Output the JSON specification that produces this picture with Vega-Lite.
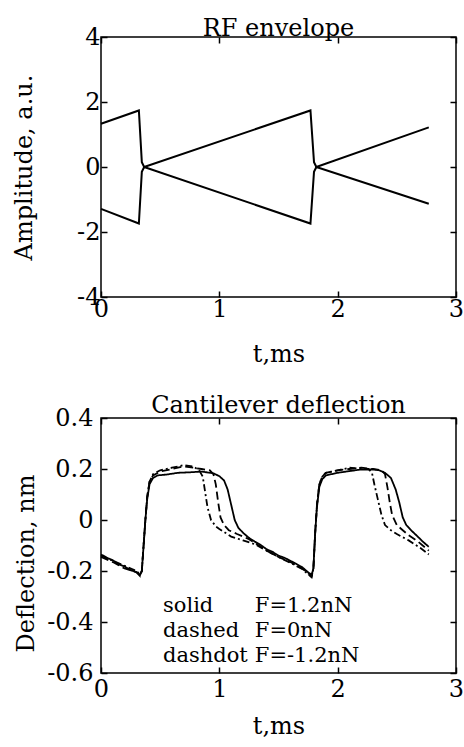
{
  "$schema": "https://vega.github.io/schema/vega-lite/v6.json",
  "background": "white",
  "padding": {"left": 11, "top": 16, "right": 0, "bottom": 0},
  "config": {
    "font": "DejaVu Serif",
    "view": {"stroke": "black", "strokeWidth": 1.5},
    "axis": {"grid": false, "domain": false, "tickColor": "black", "tickSize": -6, "tickWidth": 1.5, "labelColor": "black", "labelFontSize": 24, "labelFont": "DejaVu Serif", "titleFont": "DejaVu Serif", "titleFontSize": 24, "titleFontWeight": "normal", "titleColor": "black", "labelFlush": false, "labelOverlap": false},
    "title": {"font": "DejaVu Serif", "fontSize": 24, "fontWeight": "normal", "color": "black", "baseline": "alphabetic", "anchor": "middle"}
  },
  "bounds": "flush",
  "spacing": 121,
  "vconcat": [
    {
      "width": 355,
      "height": 260,
      "title": {"text": "RF envelope", "offset": -16},
      "data": {"values": [
        {"s": "upper", "t": 0, "a": 1.33},
        {"s": "upper", "t": 0.32, "a": 1.74},
        {"s": "upper", "t": 0.345, "a": 0.15},
        {"s": "upper", "t": 0.365, "a": 0},
        {"s": "upper", "t": 1.77, "a": 1.74},
        {"s": "upper", "t": 1.8, "a": 0.15},
        {"s": "upper", "t": 1.82, "a": 0},
        {"s": "upper", "t": 2.77, "a": 1.22},
        {"s": "lower", "t": 0, "a": -1.29},
        {"s": "lower", "t": 0.32, "a": -1.74},
        {"s": "lower", "t": 0.345, "a": -0.15},
        {"s": "lower", "t": 0.365, "a": 0},
        {"s": "lower", "t": 1.77, "a": -1.74},
        {"s": "lower", "t": 1.8, "a": -0.15},
        {"s": "lower", "t": 1.82, "a": 0},
        {"s": "lower", "t": 2.77, "a": -1.13}
      ]},
      "layer": [
        {
          "mark": {"type": "line", "color": "black", "strokeWidth": 2},
          "encoding": {
            "x": {"field": "t", "type": "quantitative", "scale": {"domain": [0, 3], "nice": false}, "axis": {"orient": "bottom", "values": [0, 1, 2, 3], "title": "t,ms", "titleY": 64, "titleBaseline": "alphabetic", "labelPadding": 6, "labelExpr": "'' + datum.value"}},
            "y": {"field": "a", "type": "quantitative", "scale": {"domain": [-4, 4], "nice": false}, "axis": {"orient": "left", "values": [-4, -2, 0, 2, 4], "title": "Amplitude, a.u.", "titleX": -70, "titleBaseline": "alphabetic", "labelPadding": 7, "labelExpr": "'' + datum.value"}},
            "detail": {"field": "s", "type": "nominal"}
          }
        },
        {
          "mark": {"type": "line", "strokeOpacity": 0},
          "encoding": {
            "x": {"field": "t", "type": "quantitative", "scale": {"domain": [0, 3], "nice": false}, "axis": {"orient": "top", "values": [0, 1, 2, 3], "labels": false, "title": null}},
            "y": {"field": "a", "type": "quantitative", "scale": {"domain": [-4, 4], "nice": false}, "axis": {"orient": "right", "values": [-4, -2, 0, 2, 4], "labels": false, "title": null}},
            "detail": {"field": "s", "type": "nominal"}
          }
        }
      ],
      "resolve": {"axis": {"x": "independent", "y": "independent"}}
    },
    {
      "width": 355,
      "height": 255,
      "title": {"text": "Cantilever deflection", "offset": -12},
      "layer": [
        {
          "data": {"values": [
            {"s": "solid", "t": 0, "d": -0.135},
            {"s": "solid", "t": 0.05, "d": -0.148},
            {"s": "solid", "t": 0.1, "d": -0.158},
            {"s": "solid", "t": 0.15, "d": -0.174},
            {"s": "solid", "t": 0.2, "d": -0.182},
            {"s": "solid", "t": 0.25, "d": -0.197},
            {"s": "solid", "t": 0.3, "d": -0.204},
            {"s": "solid", "t": 0.33, "d": -0.215},
            {"s": "solid", "t": 0.345, "d": -0.2},
            {"s": "solid", "t": 0.36, "d": -0.1},
            {"s": "solid", "t": 0.375, "d": 0.0},
            {"s": "solid", "t": 0.39, "d": 0.08},
            {"s": "solid", "t": 0.41, "d": 0.14},
            {"s": "solid", "t": 0.44, "d": 0.165},
            {"s": "solid", "t": 0.48, "d": 0.175},
            {"s": "solid", "t": 0.55, "d": 0.178},
            {"s": "solid", "t": 0.65, "d": 0.185},
            {"s": "solid", "t": 0.75, "d": 0.187},
            {"s": "solid", "t": 0.85, "d": 0.19},
            {"s": "solid", "t": 0.95, "d": 0.183},
            {"s": "solid", "t": 1.0, "d": 0.172},
            {"s": "solid", "t": 1.04, "d": 0.155},
            {"s": "solid", "t": 1.07, "d": 0.12},
            {"s": "solid", "t": 1.1, "d": 0.06},
            {"s": "solid", "t": 1.13, "d": 0.0},
            {"s": "solid", "t": 1.16, "d": -0.03},
            {"s": "solid", "t": 1.2, "d": -0.05},
            {"s": "solid", "t": 1.25, "d": -0.07},
            {"s": "solid", "t": 1.3, "d": -0.085},
            {"s": "solid", "t": 1.35, "d": -0.098},
            {"s": "solid", "t": 1.4, "d": -0.115},
            {"s": "solid", "t": 1.45, "d": -0.125},
            {"s": "solid", "t": 1.5, "d": -0.14},
            {"s": "solid", "t": 1.55, "d": -0.148},
            {"s": "solid", "t": 1.6, "d": -0.16},
            {"s": "solid", "t": 1.65, "d": -0.172},
            {"s": "solid", "t": 1.7, "d": -0.185},
            {"s": "solid", "t": 1.75, "d": -0.205},
            {"s": "solid", "t": 1.78, "d": -0.215},
            {"s": "solid", "t": 1.795, "d": -0.19},
            {"s": "solid", "t": 1.81, "d": -0.05},
            {"s": "solid", "t": 1.825, "d": 0.05},
            {"s": "solid", "t": 1.845, "d": 0.13},
            {"s": "solid", "t": 1.87, "d": 0.16},
            {"s": "solid", "t": 1.9, "d": 0.175},
            {"s": "solid", "t": 2.0, "d": 0.185},
            {"s": "solid", "t": 2.1, "d": 0.192},
            {"s": "solid", "t": 2.2, "d": 0.198},
            {"s": "solid", "t": 2.3, "d": 0.198},
            {"s": "solid", "t": 2.35, "d": 0.195},
            {"s": "solid", "t": 2.4, "d": 0.185},
            {"s": "solid", "t": 2.45, "d": 0.165},
            {"s": "solid", "t": 2.49, "d": 0.12},
            {"s": "solid", "t": 2.52, "d": 0.07},
            {"s": "solid", "t": 2.55, "d": 0.01},
            {"s": "solid", "t": 2.58, "d": -0.02},
            {"s": "solid", "t": 2.62, "d": -0.04},
            {"s": "solid", "t": 2.67, "d": -0.062},
            {"s": "solid", "t": 2.72, "d": -0.085},
            {"s": "solid", "t": 2.77, "d": -0.105},
            {"s": "dashed", "t": 0, "d": -0.145},
            {"s": "dashed", "t": 0.1, "d": -0.165},
            {"s": "dashed", "t": 0.2, "d": -0.19},
            {"s": "dashed", "t": 0.3, "d": -0.205},
            {"s": "dashed", "t": 0.33, "d": -0.22},
            {"s": "dashed", "t": 0.345, "d": -0.2},
            {"s": "dashed", "t": 0.36, "d": -0.1},
            {"s": "dashed", "t": 0.375, "d": 0.0},
            {"s": "dashed", "t": 0.39, "d": 0.09},
            {"s": "dashed", "t": 0.41, "d": 0.15},
            {"s": "dashed", "t": 0.44, "d": 0.175},
            {"s": "dashed", "t": 0.5, "d": 0.19},
            {"s": "dashed", "t": 0.6, "d": 0.2},
            {"s": "dashed", "t": 0.7, "d": 0.21},
            {"s": "dashed", "t": 0.78, "d": 0.205},
            {"s": "dashed", "t": 0.85, "d": 0.2},
            {"s": "dashed", "t": 0.92, "d": 0.195},
            {"s": "dashed", "t": 0.95, "d": 0.18},
            {"s": "dashed", "t": 0.97, "d": 0.14},
            {"s": "dashed", "t": 0.99, "d": 0.07},
            {"s": "dashed", "t": 1.01, "d": 0.01},
            {"s": "dashed", "t": 1.04, "d": -0.02},
            {"s": "dashed", "t": 1.08, "d": -0.04},
            {"s": "dashed", "t": 1.15, "d": -0.055},
            {"s": "dashed", "t": 1.25, "d": -0.075},
            {"s": "dashed", "t": 1.3, "d": -0.09},
            {"s": "dashed", "t": 1.4, "d": -0.12},
            {"s": "dashed", "t": 1.5, "d": -0.145},
            {"s": "dashed", "t": 1.6, "d": -0.165},
            {"s": "dashed", "t": 1.7, "d": -0.19},
            {"s": "dashed", "t": 1.78, "d": -0.22},
            {"s": "dashed", "t": 1.795, "d": -0.19},
            {"s": "dashed", "t": 1.81, "d": -0.05},
            {"s": "dashed", "t": 1.825, "d": 0.06},
            {"s": "dashed", "t": 1.845, "d": 0.14},
            {"s": "dashed", "t": 1.87, "d": 0.17},
            {"s": "dashed", "t": 1.9, "d": 0.185},
            {"s": "dashed", "t": 2.0, "d": 0.195},
            {"s": "dashed", "t": 2.1, "d": 0.2},
            {"s": "dashed", "t": 2.2, "d": 0.205},
            {"s": "dashed", "t": 2.3, "d": 0.2},
            {"s": "dashed", "t": 2.37, "d": 0.195},
            {"s": "dashed", "t": 2.4, "d": 0.18},
            {"s": "dashed", "t": 2.42, "d": 0.13},
            {"s": "dashed", "t": 2.44, "d": 0.07},
            {"s": "dashed", "t": 2.46, "d": 0.02},
            {"s": "dashed", "t": 2.5, "d": -0.02},
            {"s": "dashed", "t": 2.55, "d": -0.04},
            {"s": "dashed", "t": 2.6, "d": -0.06},
            {"s": "dashed", "t": 2.68, "d": -0.085},
            {"s": "dashed", "t": 2.77, "d": -0.12},
            {"s": "dashdot", "t": 0, "d": -0.14},
            {"s": "dashdot", "t": 0.1, "d": -0.16},
            {"s": "dashdot", "t": 0.2, "d": -0.18},
            {"s": "dashdot", "t": 0.3, "d": -0.2},
            {"s": "dashdot", "t": 0.33, "d": -0.215},
            {"s": "dashdot", "t": 0.345, "d": -0.2},
            {"s": "dashdot", "t": 0.36, "d": -0.1},
            {"s": "dashdot", "t": 0.375, "d": 0.0},
            {"s": "dashdot", "t": 0.39, "d": 0.09},
            {"s": "dashdot", "t": 0.41, "d": 0.15},
            {"s": "dashdot", "t": 0.44, "d": 0.18},
            {"s": "dashdot", "t": 0.5, "d": 0.195},
            {"s": "dashdot", "t": 0.6, "d": 0.205},
            {"s": "dashdot", "t": 0.7, "d": 0.215},
            {"s": "dashdot", "t": 0.78, "d": 0.21},
            {"s": "dashdot", "t": 0.83, "d": 0.195},
            {"s": "dashdot", "t": 0.86, "d": 0.17},
            {"s": "dashdot", "t": 0.88, "d": 0.11},
            {"s": "dashdot", "t": 0.9, "d": 0.05},
            {"s": "dashdot", "t": 0.93, "d": 0.0},
            {"s": "dashdot", "t": 0.97, "d": -0.025},
            {"s": "dashdot", "t": 1.0, "d": -0.035},
            {"s": "dashdot", "t": 1.05, "d": -0.05},
            {"s": "dashdot", "t": 1.1, "d": -0.065},
            {"s": "dashdot", "t": 1.2, "d": -0.08},
            {"s": "dashdot", "t": 1.3, "d": -0.095},
            {"s": "dashdot", "t": 1.4, "d": -0.12},
            {"s": "dashdot", "t": 1.5, "d": -0.145},
            {"s": "dashdot", "t": 1.6, "d": -0.168},
            {"s": "dashdot", "t": 1.7, "d": -0.192},
            {"s": "dashdot", "t": 1.78, "d": -0.225},
            {"s": "dashdot", "t": 1.795, "d": -0.19},
            {"s": "dashdot", "t": 1.81, "d": -0.05},
            {"s": "dashdot", "t": 1.825, "d": 0.06},
            {"s": "dashdot", "t": 1.845, "d": 0.14},
            {"s": "dashdot", "t": 1.87, "d": 0.17},
            {"s": "dashdot", "t": 1.9, "d": 0.185},
            {"s": "dashdot", "t": 2.0, "d": 0.195},
            {"s": "dashdot", "t": 2.1, "d": 0.205},
            {"s": "dashdot", "t": 2.2, "d": 0.2},
            {"s": "dashdot", "t": 2.26, "d": 0.2},
            {"s": "dashdot", "t": 2.29, "d": 0.185},
            {"s": "dashdot", "t": 2.31, "d": 0.14},
            {"s": "dashdot", "t": 2.34, "d": 0.08},
            {"s": "dashdot", "t": 2.37, "d": 0.02},
            {"s": "dashdot", "t": 2.4, "d": -0.02},
            {"s": "dashdot", "t": 2.45, "d": -0.04},
            {"s": "dashdot", "t": 2.5, "d": -0.055},
            {"s": "dashdot", "t": 2.6, "d": -0.08},
            {"s": "dashdot", "t": 2.7, "d": -0.11},
            {"s": "dashdot", "t": 2.77, "d": -0.135}
          ]},
          "mark": {"type": "line", "color": "black", "strokeWidth": 1.8},
          "encoding": {
            "x": {"field": "t", "type": "quantitative", "scale": {"domain": [0, 3], "nice": false}, "axis": {"orient": "bottom", "values": [0, 1, 2, 3], "title": "t,ms", "titleY": 60, "titleBaseline": "alphabetic", "labelPadding": 10, "labelExpr": "'' + datum.value"}},
            "y": {"field": "d", "type": "quantitative", "scale": {"domain": [-0.6, 0.4], "nice": false}, "axis": {"orient": "left", "values": [-0.6, -0.4, -0.2, 0, 0.2, 0.4], "title": "Deflection, nm", "titleX": -68, "titleY": 145, "titleBaseline": "alphabetic", "labelPadding": 14, "labelExpr": "'' + datum.value"}},
            "strokeDash": {"field": "s", "type": "nominal", "scale": {"domain": ["solid", "dashed", "dashdot"], "range": [[1, 0], [8, 4], [7, 3, 2, 3]]}, "legend": null}
          }
        },
        {
          "data": {"values": [{"t": 0, "d": 0}, {"t": 3, "d": 0.4}]},
          "mark": {"type": "point", "opacity": 0},
          "encoding": {
            "x": {"field": "t", "type": "quantitative", "scale": {"domain": [0, 3], "nice": false}, "axis": {"orient": "top", "values": [0, 1, 2, 3], "labels": false, "title": null}},
            "y": {"field": "d", "type": "quantitative", "scale": {"domain": [-0.6, 0.4], "nice": false}, "axis": {"orient": "right", "values": [-0.6, -0.4, -0.2, 0, 0.2, 0.4], "labels": false, "title": null}}
          }
        },
        {
          "data": {"values": [{}]},
          "mark": {"type": "text", "text": ["solid", "dashed", "dashdot"], "lineHeight": 25, "baseline": "alphabetic", "align": "left", "fontSize": 21, "color": "black"},
          "encoding": {
            "x": {"datum": 0.524, "type": "quantitative", "scale": {"domain": [0, 3], "nice": false}, "axis": null},
            "y": {"datum": -0.36, "type": "quantitative", "scale": {"domain": [-0.6, 0.4], "nice": false}, "axis": null}
          }
        },
        {
          "data": {"values": [{}]},
          "mark": {"type": "text", "text": ["F=1.2nN", "F=0nN", "F=-1.2nN"], "lineHeight": 25, "baseline": "alphabetic", "align": "left", "fontSize": 21, "color": "black"},
          "encoding": {
            "x": {"datum": 1.3, "type": "quantitative", "scale": {"domain": [0, 3], "nice": false}, "axis": null},
            "y": {"datum": -0.36, "type": "quantitative", "scale": {"domain": [-0.6, 0.4], "nice": false}, "axis": null}
          }
        }
      ],
      "resolve": {"axis": {"x": "independent", "y": "independent"}}
    }
  ]
}
